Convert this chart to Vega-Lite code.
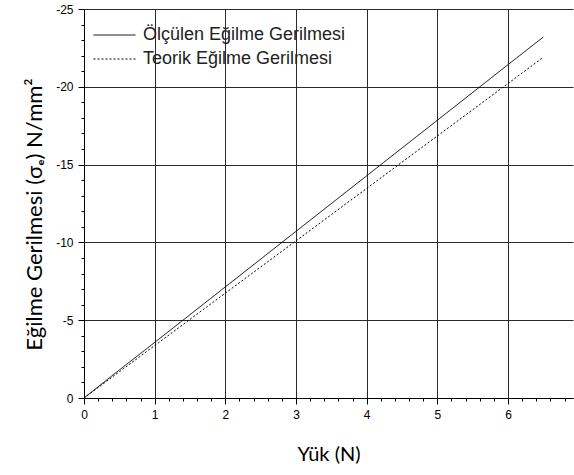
{
  "$schema": "https://vega.github.io/schema/vega-lite/v6.json",
  "autosize": "none",
  "width": 489,
  "height": 389,
  "padding": {"left": 84, "top": 9, "right": 1, "bottom": 77},
  "background": "white",
  "config": {
    "view": {"stroke": null},
    "font": "Liberation Sans",
    "axis": {
      "domainColor": "black",
      "labelColor": "black",
      "labelFont": "Liberation Sans",
      "labelFontSize": 12,
      "titleColor": "black",
      "titleFont": "Lato",
      "titleFontWeight": "normal",
      "titleFontSize": 20
    }
  },
  "data": {
    "values": [
      {"load": 0, "stress": 0, "series": "Ölçülen Eğilme Gerilmesi"},
      {"load": 0.5, "stress": -1.8, "series": "Ölçülen Eğilme Gerilmesi"},
      {"load": 1, "stress": -3.57, "series": "Ölçülen Eğilme Gerilmesi"},
      {"load": 2, "stress": -7.14, "series": "Ölçülen Eğilme Gerilmesi"},
      {"load": 3, "stress": -10.71, "series": "Ölçülen Eğilme Gerilmesi"},
      {"load": 4, "stress": -14.28, "series": "Ölçülen Eğilme Gerilmesi"},
      {"load": 5, "stress": -17.85, "series": "Ölçülen Eğilme Gerilmesi"},
      {"load": 6, "stress": -21.42, "series": "Ölçülen Eğilme Gerilmesi"},
      {"load": 6.5, "stress": -23.2, "series": "Ölçülen Eğilme Gerilmesi"},
      {"load": 0, "stress": 0, "series": "Teorik Eğilme Gerilmesi"},
      {"load": 1, "stress": -3.37, "series": "Teorik Eğilme Gerilmesi"},
      {"load": 2, "stress": -6.74, "series": "Teorik Eğilme Gerilmesi"},
      {"load": 3, "stress": -10.1, "series": "Teorik Eğilme Gerilmesi"},
      {"load": 4, "stress": -13.47, "series": "Teorik Eğilme Gerilmesi"},
      {"load": 5, "stress": -16.84, "series": "Teorik Eğilme Gerilmesi"},
      {"load": 6, "stress": -20.21, "series": "Teorik Eğilme Gerilmesi"},
      {"load": 6.5, "stress": -21.9, "series": "Teorik Eğilme Gerilmesi"}
    ]
  },
  "mark": {"type": "line", "color": "black", "strokeWidth": 1, "clip": true},
  "encoding": {
    "x": {
      "field": "load",
      "type": "quantitative",
      "scale": {"domain": [0, 6.92], "nice": false, "zero": false},
      "axis": {
        "title": "Yük (N)",
        "titlePadding": 24,
        "values": [0, 0.2, 0.4, 0.6, 0.8, 1, 1.2, 1.4, 1.6, 1.8, 2, 2.2, 2.4, 2.6, 2.8, 3, 3.2, 3.4, 3.6, 3.8, 4, 4.2, 4.4, 4.6, 4.8, 5, 5.2, 5.4, 5.6, 5.8, 6, 6.2, 6.4, 6.6, 6.8],
        "labelExpr": "round(datum.value) === datum.value ? '' + datum.value : ''",
        "labelPadding": 5,
        "labelFlush": false,
        "labelOverlap": false,
        "tickColor": "black",
        "tickSize": {"condition": {"test": "round(datum.value) === datum.value", "value": 6}, "value": 3},
        "grid": true,
        "gridColor": {"condition": {"test": "round(datum.value) === datum.value", "value": "#2a2a2a"}, "value": null},
        "gridWidth": 1,
        "gridOpacity": 1
      }
    },
    "y": {
      "field": "stress",
      "type": "quantitative",
      "scale": {"domain": [-25, 0], "nice": false, "zero": false, "reverse": true},
      "axis": {
        "title": "Eğilme Gerilmesi (σₑ) N/mm²",
        "titleFontSize": 22,
        "titlePadding": 9,
        "titleY": 205,
        "values": [0, -1, -2, -3, -4, -5, -6, -7, -8, -9, -10, -11, -12, -13, -14, -15, -16, -17, -18, -19, -20, -21, -22, -23, -24, -25],
        "labelExpr": "datum.value % 5 === 0 ? '' + datum.value : ''",
        "labelPadding": 5,
        "labelFlush": false,
        "labelOverlap": false,
        "tickColor": "black",
        "tickSize": {"condition": {"test": "datum.value % 5 === 0", "value": 6}, "value": 3},
        "grid": true,
        "gridColor": {"condition": {"test": "datum.value % 5 === 0", "value": "#2a2a2a"}, "value": null},
        "gridWidth": 1,
        "gridOpacity": 1
      }
    },
    "strokeDash": {
      "field": "series",
      "type": "nominal",
      "scale": {"domain": ["Ölçülen Eğilme Gerilmesi", "Teorik Eğilme Gerilmesi"], "range": [[1, 0], [2, 2]]},
      "legend": {
        "title": null,
        "orient": "none",
        "legendX": 9,
        "legendY": 17,
        "symbolType": "stroke",
        "symbolSize": 1764,
        "symbolStrokeColor": "black",
        "symbolStrokeWidth": 1,
        "clipHeight": 18,
        "labelFont": "Liberation Sans",
        "labelFontSize": 18,
        "labelColor": "#222",
        "labelOffset": 7,
        "rowPadding": 6,
        "padding": 0,
        "labelLimit": 400
      }
    }
  }
}
